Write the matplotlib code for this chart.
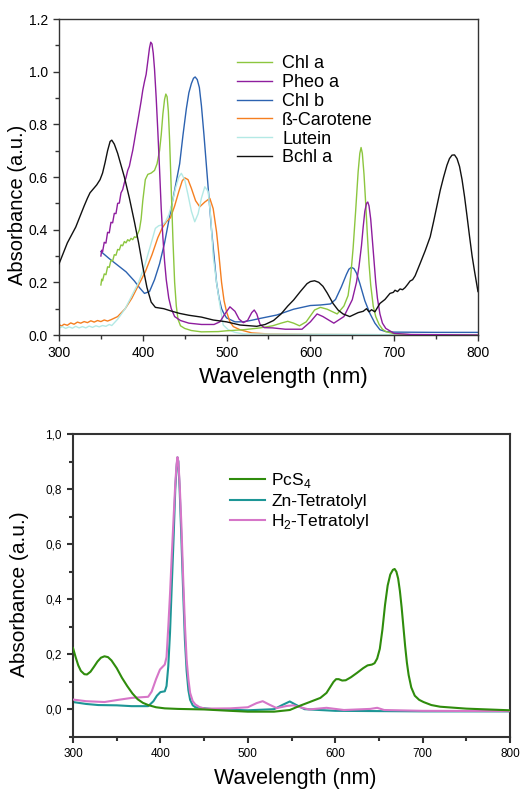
import matplotlib
matplotlib.use("Agg")
import matplotlib.pyplot as plt
from matplotlib.ticker import MultipleLocator, FuncFormatter

plt.rcParams['font.family'] = ['Liberation Sans', 'DejaVu Sans']
plt.rcParams['mathtext.fontset'] = 'custom'
plt.rcParams['mathtext.rm'] = 'Liberation Sans'

# --- upper panel: natural pigments ---
chla_nm = [350, 351, 352, 354, 356, 358, 360, 362, 364, 366, 368, 370, 372, 374, 376, 378,
           380, 382, 384, 386, 388, 390, 392, 394, 396, 398, 400, 403, 406, 410, 414, 417,
           420, 422, 424, 426, 427.5, 429, 430.5, 432, 434, 436, 438, 440, 442, 445, 450,
           458, 470, 490, 500, 520, 540, 555, 565, 573, 580, 587, 595, 605, 612, 620, 632,
           640, 645, 648, 651, 654, 657, 659, 660.5, 662, 664, 666, 668, 670, 672, 675, 678,
           682, 686, 690, 700, 720, 800]
chla_abs = [0.19, 0.212, 0.206, 0.232, 0.229, 0.259, 0.257, 0.284, 0.281, 0.305, 0.303, 0.325,
            0.323, 0.342, 0.339, 0.355, 0.35, 0.362, 0.357, 0.367, 0.362, 0.373, 0.37, 0.385,
            0.40, 0.44, 0.51, 0.59, 0.61, 0.615, 0.625, 0.65, 0.70, 0.76, 0.84, 0.895, 0.915,
            0.905, 0.85, 0.74, 0.55, 0.36, 0.2, 0.11, 0.06, 0.035, 0.025, 0.017, 0.012, 0.013,
            0.016, 0.02, 0.027, 0.035, 0.045, 0.052, 0.045, 0.035, 0.05, 0.095, 0.105, 0.098,
            0.08, 0.11, 0.15, 0.22, 0.33, 0.47, 0.62, 0.69, 0.712, 0.69, 0.61, 0.5, 0.38, 0.27,
            0.19, 0.11, 0.07, 0.04, 0.022, 0.013, 0.005, 0.001, 0.0]

pheo_nm = [350, 351, 352, 354, 356, 358, 360, 362, 364, 366, 368, 370, 372, 374, 376, 378,
           380, 382, 384, 386, 388, 390, 392, 394, 396, 398, 400, 402, 404, 406, 408, 409.5,
           411, 412.5, 414, 416, 418, 420, 422, 424, 426, 428, 431, 434, 438, 445, 455, 470,
           485, 492, 498, 504, 510, 515, 520, 525, 530, 533, 536, 540, 545, 555, 570, 590,
           600, 608, 615, 628, 640, 650, 655, 658, 661, 663, 665, 667, 668.5, 670, 672, 674,
           676, 678, 680, 683, 686, 690, 700, 720, 800]
pheo_abs = [0.30, 0.322, 0.316, 0.352, 0.349, 0.39, 0.388, 0.428, 0.426, 0.462, 0.461, 0.5,
            0.501, 0.54, 0.552, 0.578, 0.598, 0.625, 0.641, 0.672, 0.701, 0.738, 0.776, 0.812,
            0.85, 0.888, 0.93, 0.962, 0.99, 1.04, 1.09, 1.112, 1.105, 1.07, 1.01, 0.9, 0.77,
            0.63, 0.48, 0.37, 0.28, 0.21, 0.14, 0.10, 0.07, 0.055, 0.045, 0.04, 0.04, 0.05,
            0.08, 0.107, 0.09, 0.06, 0.047, 0.055, 0.085, 0.095, 0.08, 0.04, 0.028, 0.027,
            0.022, 0.022, 0.05, 0.08, 0.07, 0.045, 0.07, 0.134, 0.2, 0.26, 0.34, 0.41, 0.47,
            0.5, 0.505, 0.49, 0.44, 0.36, 0.28, 0.2, 0.14, 0.08, 0.045, 0.025, 0.006, 0.002, 0.0]

chlb_nm = [350, 360, 370, 380, 390, 396, 402, 408, 414, 420, 426, 432, 438, 444, 448, 452,
           455, 458, 460.5, 462.5, 465, 467.5, 470, 473, 476, 479, 482, 485, 488, 491, 494,
           497, 500, 510, 520, 530, 540, 560, 580, 600, 612, 624, 630, 637, 643, 646, 649,
           652, 655, 659, 665, 671, 677, 683, 690, 700, 750, 800]
chlb_abs = [0.317, 0.29, 0.265, 0.24, 0.205, 0.18, 0.158, 0.165, 0.21, 0.27, 0.35, 0.45, 0.55,
            0.65, 0.76, 0.86, 0.92, 0.955, 0.975, 0.98, 0.97, 0.94, 0.87, 0.76, 0.64, 0.52,
            0.40, 0.30, 0.20, 0.14, 0.10, 0.08, 0.065, 0.05, 0.05, 0.056, 0.063, 0.076, 0.098,
            0.112, 0.114, 0.118, 0.135, 0.183, 0.23, 0.25, 0.257, 0.252, 0.235, 0.196, 0.13,
            0.082, 0.045, 0.02, 0.013, 0.011, 0.01, 0.01]

carot_nm = [300, 303, 306, 310, 314, 318, 322, 326, 330, 334, 338, 342, 346, 350, 354, 358,
            362, 370, 379, 387, 395, 403, 411, 418, 423, 428, 433, 438, 443, 447, 450, 454,
            458, 463, 468, 474, 480, 484, 488, 491, 494, 497, 500, 504, 508, 516, 530, 550,
            600, 800]
carot_abs = [0.04, 0.034, 0.041, 0.037, 0.046, 0.041, 0.049, 0.045, 0.051, 0.047, 0.054, 0.049,
             0.055, 0.051, 0.057, 0.053, 0.058, 0.07, 0.1, 0.14, 0.19, 0.24, 0.305, 0.37, 0.405,
             0.43, 0.445, 0.49, 0.545, 0.585, 0.597, 0.59, 0.557, 0.51, 0.487, 0.505, 0.519,
             0.48, 0.392, 0.3, 0.2, 0.13, 0.088, 0.05, 0.032, 0.02, 0.008, 0.004, 0.002, 0.0]

lutein_nm = [300, 304, 308, 312, 316, 320, 324, 328, 332, 336, 340, 344, 348, 352, 356, 360,
             363, 370, 379, 387, 395, 402, 407, 411, 415, 419, 423, 427, 431, 435, 439, 443,
             446, 450, 454, 458, 462, 466, 470, 474, 478, 481, 484, 488, 492, 496, 502, 510,
             520, 800]
lutein_abs = [0.026, 0.032, 0.025, 0.031, 0.026, 0.033, 0.027, 0.032, 0.027, 0.034, 0.029,
              0.035, 0.031, 0.036, 0.033, 0.04, 0.036, 0.06, 0.1, 0.15, 0.2, 0.26, 0.316, 0.36,
              0.405, 0.415, 0.418, 0.43, 0.456, 0.5, 0.557, 0.6, 0.614, 0.59, 0.532, 0.47,
              0.43, 0.46, 0.52, 0.563, 0.545, 0.45, 0.3, 0.2, 0.114, 0.038, 0.02, 0.01, 0.004, 0.0]

bchla_nm = [300, 310, 320, 330, 334, 337, 341, 345, 349, 352, 355, 358, 361, 363, 366, 370,
            374, 378, 384, 390, 395, 400, 405, 410, 415, 425, 435, 444, 455, 470, 484, 500,
            516, 536, 546, 556, 565, 573, 580, 588, 592, 596, 600, 605, 610, 615, 620, 627,
            633, 639, 647, 657, 663, 667, 670, 673, 677, 683, 689, 695, 699, 701, 704, 707,
            710, 713, 716, 719, 722, 725, 731, 737, 743, 747, 751, 755, 759, 763, 766, 769,
            772, 775, 778, 781, 784, 787, 790, 793, 796, 800]
bchla_abs = [0.27, 0.35, 0.41, 0.49, 0.52, 0.54, 0.555, 0.57, 0.59, 0.615, 0.655, 0.70, 0.735,
             0.74, 0.725, 0.69, 0.645, 0.60, 0.52, 0.43, 0.35, 0.26, 0.18, 0.125, 0.105, 0.1,
             0.09, 0.082, 0.075, 0.068, 0.057, 0.05, 0.038, 0.033, 0.04, 0.055, 0.08, 0.11,
             0.133, 0.165, 0.18, 0.195, 0.203, 0.206, 0.2, 0.185, 0.16, 0.12, 0.095, 0.08,
             0.07, 0.085, 0.09, 0.1, 0.088, 0.096, 0.088, 0.12, 0.135, 0.158, 0.162, 0.17,
             0.165, 0.175, 0.172, 0.18, 0.192, 0.205, 0.21, 0.225, 0.272, 0.32, 0.373, 0.43,
             0.49, 0.55, 0.6, 0.645, 0.67, 0.683, 0.684, 0.67, 0.64, 0.59, 0.525, 0.45, 0.373,
             0.30, 0.24, 0.165]

# --- lower panel: synthetic dyes ---
pcs4_nm = [300, 303, 306, 309, 313, 316, 320, 324, 328, 332, 336, 340, 344, 350, 356, 362,
           368, 374, 380, 386, 395, 405, 420, 450, 480, 500, 530, 548, 560, 570, 583, 590,
           594, 598, 601, 604, 608, 612, 618, 625, 632, 637, 642, 645, 648, 651, 654, 657,
           660, 663, 666, 668, 670, 672, 674, 676, 678, 680, 682, 684, 687, 691, 696, 701,
           710, 720, 750, 800]
pcs4_abs = [0.223, 0.19, 0.16, 0.14, 0.128, 0.127, 0.137, 0.155, 0.174, 0.188, 0.193, 0.19,
            0.178, 0.15, 0.115, 0.085, 0.058, 0.037, 0.024, 0.016, 0.008, 0.004, 0.002, 0.0,
            -0.005, -0.008, -0.008, -0.002, 0.014, 0.026, 0.042, 0.06, 0.08, 0.1, 0.11, 0.11,
            0.105, 0.106, 0.117, 0.133, 0.15, 0.16, 0.163, 0.168, 0.185, 0.22, 0.29, 0.38,
            0.45, 0.49, 0.507, 0.51, 0.5, 0.475, 0.43, 0.37, 0.30, 0.23, 0.17, 0.125, 0.08,
            0.05, 0.035, 0.027, 0.016, 0.01, 0.003, -0.003]

zn_nm = [300, 315, 329, 350, 367, 386, 392, 396, 400, 405, 407, 409, 411, 413, 415, 417,
         418.5, 419.5, 420.5, 422, 424, 426, 428, 430, 432, 434, 437, 440, 460, 500, 530,
         540, 548, 555, 565, 600, 700, 800]
zn_abs = [0.027, 0.02, 0.016, 0.015, 0.012, 0.012, 0.03, 0.05, 0.063, 0.066, 0.085, 0.157,
          0.28, 0.45, 0.616, 0.8, 0.88, 0.915, 0.9, 0.8, 0.62, 0.43, 0.254, 0.14, 0.07, 0.035,
          0.015, 0.008, 0.001, -0.003, 0.001, 0.017, 0.029, 0.017, 0.001, -0.005, -0.007,
          -0.007]

h2_nm = [300, 315, 336, 352, 367, 386, 390, 395, 399.5, 405, 407, 409, 411, 413, 415, 417,
         418.5, 419.5, 420.5, 422, 424, 426, 428, 430, 432, 434, 437, 440, 445, 451, 480,
         500, 510, 517, 525, 533, 545, 552, 560, 570, 590, 610, 640, 648, 656, 700, 800]
h2_abs = [0.036, 0.03, 0.027, 0.035, 0.042, 0.046, 0.065, 0.11, 0.145, 0.163, 0.19, 0.3,
          0.42, 0.56, 0.69, 0.82, 0.89, 0.916, 0.9, 0.82, 0.67, 0.48, 0.31, 0.18, 0.11, 0.06,
          0.03, 0.018, 0.008, 0.003, 0.004, 0.008, 0.023, 0.03, 0.017, 0.005, 0.013, 0.015,
          0.008, 0.0, 0.006, -0.002, 0.002, 0.006, -0.002, -0.005, -0.006]


def style_axes(ax, labelsize, spine_w, sep):
    for s in ax.spines.values():
        s.set_linewidth(spine_w)
        s.set_color('#333333')
    ax.xaxis.set_major_locator(MultipleLocator(100))
    ax.xaxis.set_minor_locator(MultipleLocator(50))
    ax.yaxis.set_major_locator(MultipleLocator(0.2))
    ax.yaxis.set_minor_locator(MultipleLocator(0.1))
    ax.tick_params(which='both', direction='out', top=False, right=False,
                   labelsize=labelsize, color='#333333', width=spine_w)
    ax.tick_params(which='major', length=4.5)
    ax.tick_params(which='minor', length=3)
    ax.yaxis.set_major_formatter(
        FuncFormatter(lambda v, p: ('%.1f' % v).replace('.', sep).replace('-0' + sep + '0', '0' + sep + '0')))


fig = plt.figure(figsize=(5.23, 7.89), dpi=100)

ax1 = fig.add_axes([0.1128, 0.5754, 0.8011, 0.4005])
lw = 1.0
ax1.plot(chla_nm, chla_abs, color='#8cc63f', lw=lw, label='Chl a', zorder=3)
ax1.plot(pheo_nm, pheo_abs, color='#8e1d9e', lw=lw, label='Pheo a', zorder=3)
ax1.plot(chlb_nm, chlb_abs, color='#2c62b0', lw=lw, label='Chl b', zorder=2)
ax1.plot(carot_nm, carot_abs, color='#f57f20', lw=lw, label='ß-Carotene', zorder=2)
ax1.plot(lutein_nm, lutein_abs, color='#b3e9e5', lw=lw, label='Lutein', zorder=2)
ax1.plot(bchla_nm, bchla_abs, color='#111111', lw=lw, label='Bchl a', zorder=4)
ax1.set_xlim(300, 800)
ax1.set_ylim(0, 1.2)
style_axes(ax1, 10, 1.0, '.')
ax1.legend(loc='upper left', bbox_to_anchor=(0.425, 0.885), frameon=False, fontsize=13,
           handlelength=1.95, handletextpad=0.55, labelspacing=0.1, borderpad=0,
           borderaxespad=0)
fig.text(0.0344, 0.740, 'Absorbance (a.u.)', rotation=90, ha='center', va='center', fontsize=14.5)
fig.text(0.542, 0.522, 'Wavelength (nm)', ha='center', va='center', fontsize=16)

ax2 = fig.add_axes([0.1396, 0.0659, 0.8356, 0.384])
lw2 = 1.5
ax2.plot(zn_nm, zn_abs, color='#1d9696', lw=lw2, label='Zn-Tetratolyl', zorder=2)
ax2.plot(h2_nm, h2_abs, color='#d676c8', lw=lw2, label='H$_2$-Tetratolyl', zorder=3)
ax2.plot(pcs4_nm, pcs4_abs, color='#2f8c0c', lw=lw2, label='PcS$_4$', zorder=4)
ax2.set_xlim(300, 800)
ax2.set_ylim(-0.1, 1.0)
style_axes(ax2, 8.5, 1.5, ',')
h, l = ax2.get_legend_handles_labels()
ax2.legend([h[2], h[0], h[1]], [l[2], l[0], l[1]], loc='upper left',
           bbox_to_anchor=(0.36, 0.877), frameon=False, fontsize=12.5,
           handlelength=2.0, handletextpad=0.35, labelspacing=0.2, borderpad=0,
           borderaxespad=0)
fig.text(0.0382, 0.247, 'Absorbance (a.u.)', rotation=90, ha='center', va='center', fontsize=15)
fig.text(0.564, 0.0139, 'Wavelength (nm)', ha='center', va='center', fontsize=15.5)

fig.savefig('out.png', dpi=100)
